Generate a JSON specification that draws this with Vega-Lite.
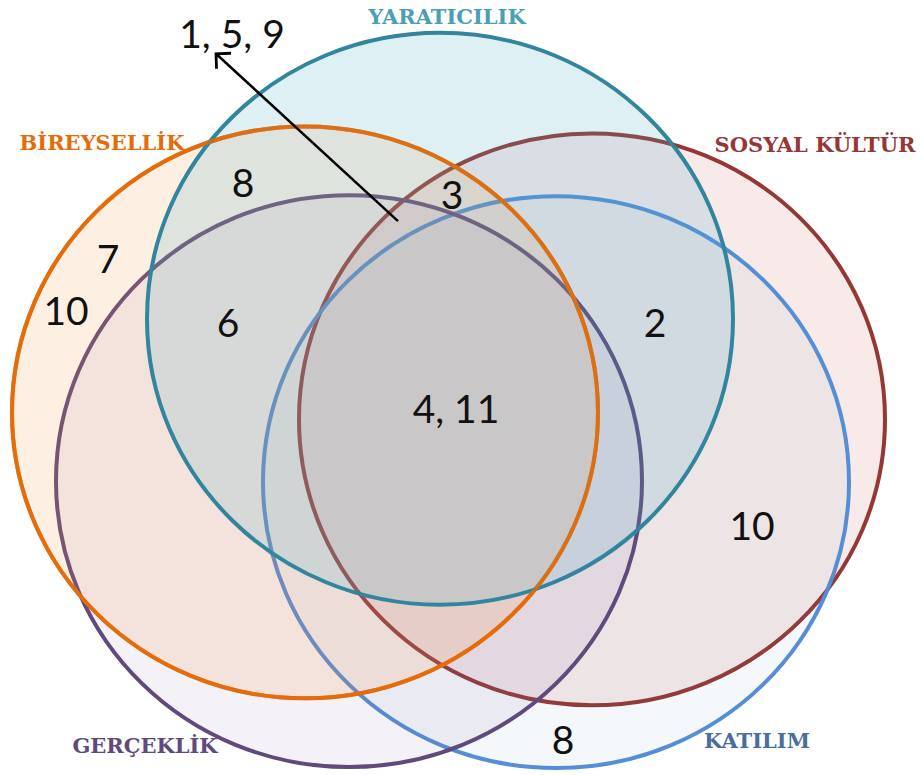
{
  "$schema": "https://vega.github.io/schema/vega-lite/v6.json",
  "width": 921,
  "height": 775,
  "padding": 0,
  "autosize": {"type": "fit", "contains": "padding"},
  "background": "white",
  "config": {"view": {"stroke": null}},
  "datasets": {
    "sets": [
      {"set": "SOSYAL KÜLTÜR", "cx": 592, "cy": 421},
      {"set": "KATILIM", "cx": 556, "cy": 484},
      {"set": "GERÇEKLİK", "cx": 349, "cy": 483},
      {"set": "BİREYSELLİK", "cx": 305, "cy": 414},
      {"set": "YARATICILIK", "cx": 440, "cy": 320}
    ],
    "labels": [
      {"set": "YARATICILIK", "lx": 447, "ly": 18},
      {"set": "BİREYSELLİK", "lx": 102, "ly": 145},
      {"set": "SOSYAL KÜLTÜR", "lx": 815, "ly": 147},
      {"set": "GERÇEKLİK", "lx": 145, "ly": 750},
      {"set": "KATILIM", "lx": 757, "ly": 745}
    ],
    "numbers": [
      {"text": "1, 5, 9", "nx": 232, "ny": 36},
      {"text": "8", "nx": 243, "ny": 186},
      {"text": "3", "nx": 452, "ny": 198},
      {"text": "7", "nx": 108, "ny": 262},
      {"text": "10", "nx": 66, "ny": 314},
      {"text": "6", "nx": 228, "ny": 326},
      {"text": "2", "nx": 655, "ny": 326},
      {"text": "4, 11", "nx": 456, "ny": 413},
      {"text": "10", "nx": 752, "ny": 530},
      {"text": "8", "nx": 563, "ny": 745}
    ],
    "arrow": [
      {"x1": 398, "y1": 222, "x2": 216, "y2": 54}
    ]
  },
  "layer": [
    {
      "data": {"name": "sets"},
      "mark": {
        "type": "point",
        "shape": "M -1 0 A 1 0.976 0 1 1 1 0 A 1 0.976 0 1 1 -1 0 Z",
        "size": 343396,
        "filled": false,
        "strokeWidth": 4,
        "opacity": 1
      },
      "encoding": {
        "x": {"field": "cx", "type": "quantitative", "scale": {"domain": [0, 921], "nice": false, "zero": false}, "axis": null},
        "y": {"field": "cy", "type": "quantitative", "scale": {"domain": [0, 775], "nice": false, "zero": false, "reverse": true}, "axis": null},
        "stroke": {
          "field": "set", "type": "nominal", "legend": null,
          "scale": {
            "domain": ["YARATICILIK", "BİREYSELLİK", "SOSYAL KÜLTÜR", "GERÇEKLİK", "KATILIM"],
            "range": ["#31859c", "#e46c0a", "#953735", "#604a7b", "#558ed5"]
          }
        },
        "fill": {
          "field": "set", "type": "nominal", "legend": null,
          "scale": {
            "domain": ["YARATICILIK", "BİREYSELLİK", "SOSYAL KÜLTÜR", "GERÇEKLİK", "KATILIM"],
            "range": ["#4bacc6", "#f79646", "#c0504d", "#8064a2", "#4f81bd"]
          }
        },
        "fillOpacity": {
          "field": "set", "type": "nominal", "legend": null,
          "scale": {
            "domain": ["YARATICILIK", "BİREYSELLİK", "SOSYAL KÜLTÜR", "GERÇEKLİK", "KATILIM"],
            "range": [0.18, 0.06, 0.15, 0.17, 0.15]
          }
        }
      }
    },
    {
      "data": {"name": "sets"},
      "transform": [{"filter": "datum.set === 'BİREYSELLİK'"}],
      "mark": {
        "type": "point",
        "shape": "M -1 0 A 1 0.976 0 1 1 1 0 A 1 0.976 0 1 1 -1 0 Z",
        "size": 343396,
        "filled": false,
        "strokeWidth": 4,
        "opacity": 0.7,
        "stroke": "#e46c0a",
        "fill": null
      },
      "encoding": {
        "x": {"field": "cx", "type": "quantitative"},
        "y": {"field": "cy", "type": "quantitative"}
      }
    },
    {
      "data": {"name": "arrow"},
      "mark": {"type": "rule", "color": "black", "strokeWidth": 2.5},
      "encoding": {
        "x": {"field": "x1", "type": "quantitative"},
        "y": {"field": "y1", "type": "quantitative"},
        "x2": {"field": "x2"},
        "y2": {"field": "y2"}
      }
    },
    {
      "data": {"name": "arrow"},
      "mark": {
        "type": "point",
        "shape": "M -1 1 L 0 0 L 1 1",
        "size": 450,
        "filled": false,
        "stroke": "black",
        "strokeWidth": 2.8,
        "opacity": 1,
        "angle": -47
      },
      "encoding": {
        "x": {"field": "x2", "type": "quantitative"},
        "y": {"field": "y2", "type": "quantitative"}
      }
    },
    {
      "data": {"name": "labels"},
      "mark": {"type": "text", "font": "DejaVu Serif", "fontWeight": "bold", "fontSize": 21, "align": "center", "baseline": "middle"},
      "encoding": {
        "x": {"field": "lx", "type": "quantitative"},
        "y": {"field": "ly", "type": "quantitative"},
        "text": {"field": "set"},
        "color": {
          "field": "set", "type": "nominal", "legend": null,
          "scale": {
            "domain": ["YARATICILIK", "BİREYSELLİK", "SOSYAL KÜLTÜR", "GERÇEKLİK", "KATILIM"],
            "range": ["#4a9fb3", "#e46c0a", "#953735", "#604a7b", "#4a6e9c"]
          }
        }
      }
    },
    {
      "data": {"name": "numbers"},
      "mark": {"type": "text", "font": "Lato", "fontSize": 39, "align": "center", "baseline": "middle", "color": "#111111"},
      "encoding": {
        "x": {"field": "nx", "type": "quantitative"},
        "y": {"field": "ny", "type": "quantitative"},
        "text": {"field": "text"}
      }
    }
  ],
  "resolve": {"scale": {"color": "independent", "fill": "independent", "stroke": "independent", "fillOpacity": "independent"}}
}
